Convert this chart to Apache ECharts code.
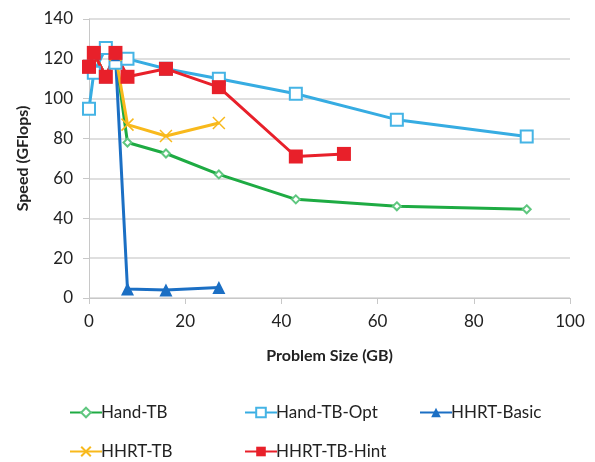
<!DOCTYPE html>
<html>
<head>
<meta charset="utf-8">
<script src="https://cdn.jsdelivr.net/npm/echarts@6/dist/echarts.min.js"></script>
<style>html,body{margin:0;padding:0;background:#fff}#c{width:595px;height:462px}</style>
</head>
<body>
<div id="c"></div>
<script>
// Problem sizes (GB)
const handTbX      = [0, 1, 3.5, 5.5, 8, 16, 27, 43, 64, 91];
const handTbY      = [116, 123, 111, 122, 78, 72.5, 62, 49.5, 46, 44.5];
const handTbOptX   = [0, 1, 3.5, 5.5, 8, 16, 27, 43, 64, 91];
const handTbOptY   = [95, 113, 125.5, 118, 120, 115, 110, 102.5, 89.5, 81];
const basicX       = [0, 1, 3.5, 5.5, 8, 16, 27];
const basicY       = [116, 123, 111, 122, 4.5, 4, 5.3];
const hhrtTbX      = [0, 1, 3.5, 5.5, 8, 16, 27];
const hhrtTbY      = [116, 123, 111, 122, 87, 81.3, 87.8];
const hintX        = [0, 1, 3.5, 5.5, 8, 16, 27, 43, 53];
const hintY        = [116, 123, 111, 123, 111, 115, 105.8, 71, 72.3];
const seriesNames  = ['Hand-TB', 'Hand-TB-Opt', 'HHRT-Basic', 'HHRT-TB', 'HHRT-TB-Hint'];
const xTicks = [0, 20, 40, 60, 80, 100];
const yTicks = [0, 20, 40, 60, 80, 100, 120, 140];

const zip = (xs, ys) => xs.map((x, i) => [x, ys[i]]);
const font = 'Lato, "Open Sans", sans-serif';
const colors = ['#1eab43', '#36ace2', '#1b6fc4', '#f8b91c', '#e8202a'];

const chart = echarts.init(document.getElementById('c'));
const legendPos = [
  {left: 64, top: 399}, {left: 239, top: 399}, {left: 414, top: 399},
  {left: 64, top: 438}, {left: 239, top: 438}
];
function mk(i, extra) {
  return Object.assign({
    name: seriesNames[i], type: 'line',
    lineStyle: {width: 3, color: colors[i]},
    showAllSymbol: true
  }, extra);
}
chart.setOption({
  animation: false,
  color: colors,
  grid: {left: 89, right: 25, top: 19, bottom: 164},
  legend: seriesNames.map((n, i) => ({
    data: [n], left: legendPos[i].left, top: legendPos[i].top,
    itemWidth: 32, itemHeight: 12, itemGap: 4,
    textStyle: {fontFamily: font, fontSize: 17, color: '#222', padding: [0, 0, 0, -6]}
  })),
  xAxis: {
    type: 'value', min: 0, max: 100, interval: 20,
    name: 'Problem Size (GB)', nameLocation: 'middle', nameGap: 50,
    nameTextStyle: {fontFamily: font, fontSize: 16, fontWeight: 'bold', color: '#222'},
    axisLine: {show: true, lineStyle: {color: '#c8c8c8', width: 1}},
    axisTick: {show: true, inside: false, length: 6, lineStyle: {color: '#c8c8c8'}},
    splitLine: {show: false},
    axisLabel: {fontFamily: font, fontSize: 17, color: '#222', margin: 15}
  },
  yAxis: {
    type: 'value', min: 0, max: 140, interval: 20,
    name: 'Speed (GFlops)', nameLocation: 'middle', nameGap: 58, nameRotate: 90,
    nameTextStyle: {fontFamily: font, fontSize: 16, fontWeight: 'bold', color: '#222'},
    axisLine: {show: true, lineStyle: {color: '#c8c8c8', width: 1}},
    axisTick: {show: true, length: 6, lineStyle: {color: '#c8c8c8'}},
    splitLine: {show: true, lineStyle: {color: '#d4d4d4', width: 1.5}},
    axisLabel: {fontFamily: font, fontSize: 17, color: '#222', margin: 16}
  },
  series: [
    mk(0, {data: zip(handTbX, handTbY), symbol: 'emptyDiamond', symbolSize: 8,
      itemStyle: {color: '#5fc77f', borderWidth: 1}}),
    mk(1, {data: zip(handTbOptX, handTbOptY), symbol: 'emptyRect', symbolSize: 12,
      itemStyle: {color: '#45b4e5', borderWidth: 1.3}}),
    mk(2, {data: zip(basicX, basicY), symbol: 'triangle', symbolSize: 13,
      itemStyle: {color: colors[2]}}),
    mk(3, {data: zip(hhrtTbX, hhrtTbY), symbol: 'path://M0,0L10,10M10,0L0,10', symbolSize: 12,
      itemStyle: {color: colors[3], borderColor: colors[3], borderWidth: 1.5}}),
    mk(4, {data: zip(hintX, hintY), symbol: 'rect', symbolSize: 14,
      itemStyle: {color: colors[4]}})
  ]
});
</script>
</body>
</html>
